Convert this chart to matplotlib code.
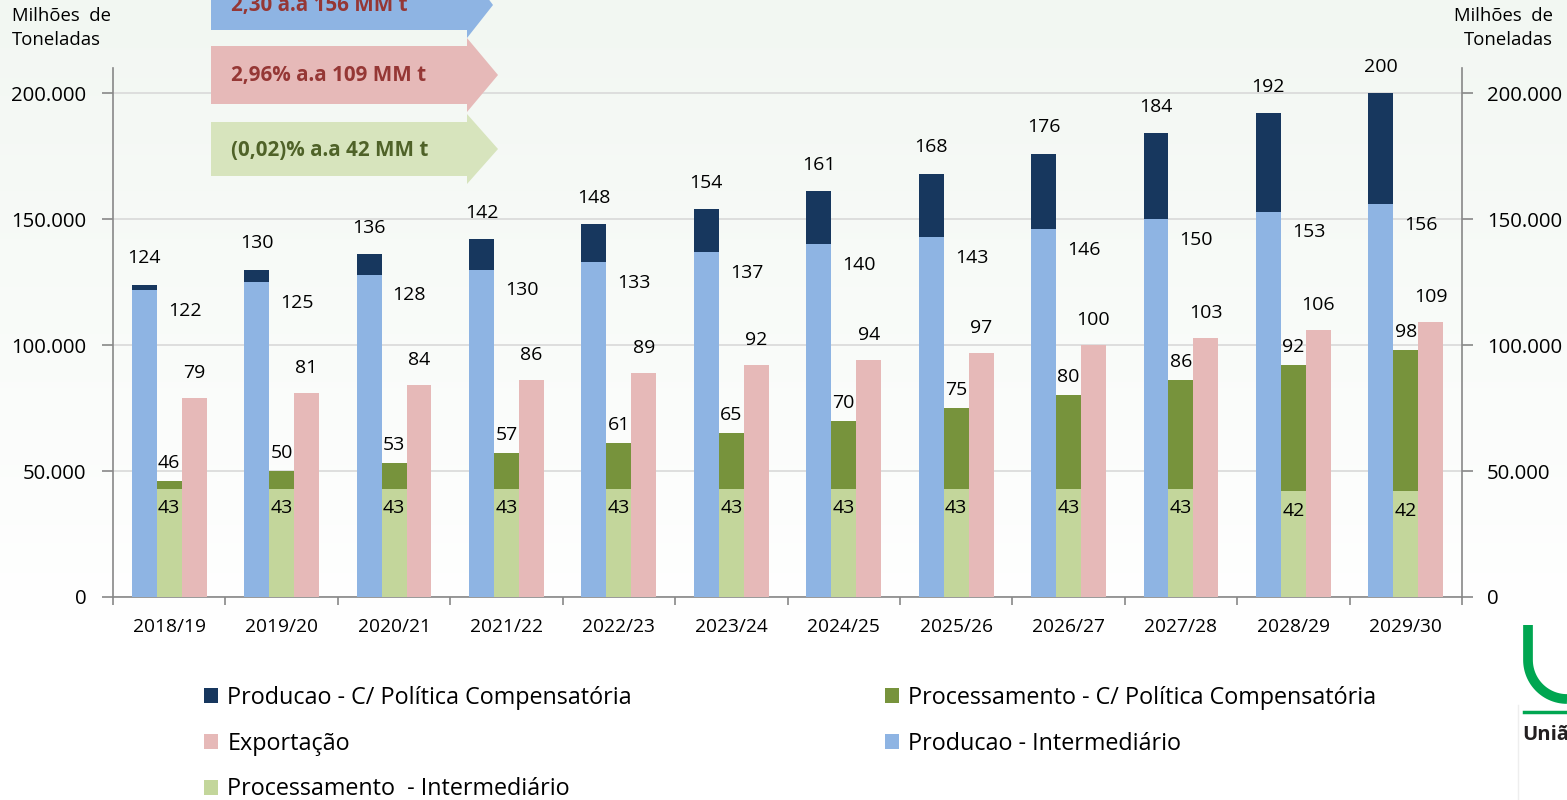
import numpy as np
import matplotlib
matplotlib.use("Agg")
import matplotlib.pyplot as plt
from matplotlib.patches import Polygon
from matplotlib.lines import Line2D
from matplotlib.ticker import FuncFormatter

plt.rcParams['font.family'] = ['Open Sans', 'DejaVu Sans']

# ---------------- data ----------------
safras = ["2018/19", "2019/20", "2020/21", "2021/22", "2022/23", "2023/24",
          "2024/25", "2025/26", "2026/27", "2027/28", "2028/29", "2029/30"]
producao_comp = [124, 130, 136, 142, 148, 154, 161, 168, 176, 184, 192, 200]
producao_inter = [122, 125, 128, 130, 133, 137, 140, 143, 146, 150, 153, 156]
process_comp = [46, 50, 53, 57, 61, 65, 70, 75, 80, 86, 92, 98]
process_inter = [43, 43, 43, 43, 43, 43, 43, 43, 43, 43, 42, 42]
exportacao = [79, 81, 84, 86, 89, 92, 94, 97, 100, 103, 106, 109]

arrow_texts = ["2,30 a.a 156 MM t", "2,96% a.a 109 MM t", "(0,02)% a.a 42 MM t"]

yticks = [0, 50000, 100000, 150000, 200000]

# colors
c_dark = '#17375e'
c_blue = '#8eb4e3'
c_olive = '#77933c'
c_lgreen = '#c3d69b'
c_pink = '#e6b9b8'

W, H = 1567, 800
fig = plt.figure(figsize=(W / 100, H / 100), dpi=100)

# background gradient
bg = fig.add_axes([0, 0, 1, 1], zorder=-10)
bg.set_axis_off()
grad = np.ones((800, 1, 3))
top = np.array([242, 247, 242]) / 255
for i in range(800):
    t = min(i / 620.0, 1.0)
    grad[i, 0, :] = top * (1 - t) + np.array([1, 1, 1]) * t
bg.imshow(grad, aspect='auto', extent=[0, 1, 0, 1], origin='upper')
bg.set_xlim(0, 1); bg.set_ylim(0, 1)

def fx(px):
    return px / W

def fy(py):
    return 1 - py / H

ax = fig.add_axes([fx(113), fy(597), fx(1462) - fx(113), fy(68) - fy(597)])
ax.set_facecolor('none')

x = np.arange(len(safras))
bw = 0.222
scale = 1000.0
pc = np.array(producao_comp) * scale
pi = np.array(producao_inter) * scale
prc = np.array(process_comp) * scale
pri = np.array(process_inter) * scale
ex = np.array(exportacao) * scale

ax.bar(x - bw, pi, bw, color=c_blue, zorder=3, label='Producao - Intermediário')
ax.bar(x - bw, pc - pi, bw, bottom=pi, color=c_dark, zorder=3,
       label='Producao - C/ Política Compensatória')
ax.bar(x, pri, bw, color=c_lgreen, zorder=3, label='Processamento  - Intermediário')
ax.bar(x, prc - pri, bw, bottom=pri, color=c_olive, zorder=3,
       label='Processamento - C/ Política Compensatória')
ax.bar(x + bw, ex, bw, color=c_pink, zorder=3, label='Exportação')

fs_lab = 14
for i in range(len(x)):
    ax.annotate(str(producao_comp[i]), (x[i] - bw, pc[i]), xytext=(0, 19),
                textcoords='offset points', ha='center', va='center', fontsize=fs_lab)
    ax.annotate(str(producao_inter[i]), (x[i] - bw, pi[i]), xytext=(29, -15),
                textcoords='offset points', ha='center', va='center', fontsize=fs_lab)
    ax.annotate(str(process_comp[i]), (x[i], prc[i]), xytext=(0, 13),
                textcoords='offset points', ha='center', va='center', fontsize=fs_lab)
    ax.annotate(str(process_inter[i]), (x[i], pri[i]), xytext=(0, -14),
                textcoords='offset points', ha='center', va='center', fontsize=fs_lab)
    ax.annotate(str(exportacao[i]), (x[i] + bw, ex[i]), xytext=(0, 18),
                textcoords='offset points', ha='center', va='center', fontsize=fs_lab)

ax.set_xlim(-0.5, len(x) - 0.5)
ax.set_ylim(0, 210000)
ax.set_yticks(yticks)
fmt = FuncFormatter(lambda v, p: f"{int(v):,}".replace(',', '.'))
ax.yaxis.set_major_formatter(fmt)
ax.grid(axis='y', color='#d9d9d9', lw=1.2, zorder=0)
ax.set_axisbelow(True)

ax.set_xticks(x)
ax.set_xticklabels(safras, fontsize=13.8)
ax.tick_params(axis='x', length=0, pad=15)
ax.set_xticks(np.arange(-0.5, len(x), 1.0), minor=True)
ax.tick_params(axis='x', which='minor', length=6, color='#888888', width=1.2)
ax.tick_params(axis='y', labelsize=14.7, length=8, color='#888888', width=1.2, pad=11)

for s in ['top', 'right']:
    ax.spines[s].set_visible(False)
for s in ['left', 'bottom']:
    ax.spines[s].set_color('#888888')
    ax.spines[s].set_linewidth(1.2)

ax2 = ax.twinx()
ax2.set_ylim(ax.get_ylim())
ax2.set_yticks(yticks)
ax2.yaxis.set_major_formatter(fmt)
ax2.tick_params(axis='y', labelsize=14.7, length=8, color='#888888', width=1.2, pad=10)
for s in ['top', 'left', 'bottom']:
    ax2.spines[s].set_visible(False)
ax2.spines['right'].set_color('#888888')
ax2.spines['right'].set_linewidth(1.2)

# unit labels
fig.text(fx(12), fy(28), "Milhões  de\nToneladas", ha='left', va='center',
         fontsize=13.3, linespacing=1.4)
fig.text(fx(1553), fy(28), "Milhões  de\nToneladas", ha='right', va='center',
         fontsize=13.3, linespacing=1.4, multialignment='right')

# arrows
arrows = [
    # body left, body right, top, bottom, head top, head bottom, tip x, color, text color
    (211, 467, -20, 30, -30, 38, 493, '#8eb4e3', '#953735'),
    (211, 467, 46, 104, 38, 112, 498, '#e6b9b8', '#953735'),
    (211, 467, 122, 176, 114, 184, 498, '#d7e4bd', '#4f6228'),
]
for (bl, br, t, b, ht, hb, tip, col, tcol), txt in zip(arrows, arrow_texts):
    mid = (t + b) / 2
    pts = [(bl, t), (br, t), (br, ht), (tip, mid), (br, hb), (br, b), (bl, b)]
    poly = Polygon([(fx(px), fy(py)) for px, py in pts], closed=True,
                   transform=fig.transFigure, facecolor=col, edgecolor='none', zorder=5)
    fig.patches.append(poly)
    fig.text(fx(231), fy(mid + 1), txt, ha='left', va='center', fontsize=14.9,
             fontweight='bold', color=tcol, zorder=6)

# legend
handles, labels = ax.get_legend_handles_labels()
hmap = dict(zip(labels, handles))
order1 = ['Producao - C/ Política Compensatória', 'Exportação',
          'Processamento  - Intermediário']
order2 = ['Processamento - C/ Política Compensatória', 'Producao - Intermediário']
leg_kw = dict(frameon=False, fontsize=16.8, handlelength=0.6, handleheight=0.6,
              handletextpad=0.4, labelspacing=0.93, borderaxespad=0, borderpad=0)
leg1 = fig.legend([hmap[l] for l in order1], order1, loc='upper left',
                  bbox_to_anchor=(fx(204), fy(686)), **leg_kw)
leg2 = fig.legend([hmap[l] for l in order2], order2, loc='upper left',
                  bbox_to_anchor=(fx(885), fy(686)), **leg_kw)

# partial logo at bottom right
green = '#00a651'
theta = np.linspace(np.pi, 1.5 * np.pi, 30)
ux = list(np.full(10, 1528.0)) + list(1567 + 39 * np.cos(theta))
uy = list(np.linspace(625, 660, 10)) + list(660 - 39 * np.sin(theta))
fig.lines.append(Line2D([fx(v) for v in ux], [fy(v) for v in uy], color=green,
                        lw=7, transform=fig.transFigure, solid_capstyle='butt'))
fig.lines.append(Line2D([fx(1524), fx(1567)], [fy(712), fy(712)], color=green,
                        lw=2.5, transform=fig.transFigure))
fig.lines.append(Line2D([fx(1518), fx(1518)], [fy(705), fy(800)], color='#eeeeee',
                        lw=1, transform=fig.transFigure))
fig.text(fx(1522), fy(735), "Uniã", ha='left', va='center', fontsize=14.5,
         fontweight='bold', color='#231f20')

fig.savefig('out.png', dpi=100)
